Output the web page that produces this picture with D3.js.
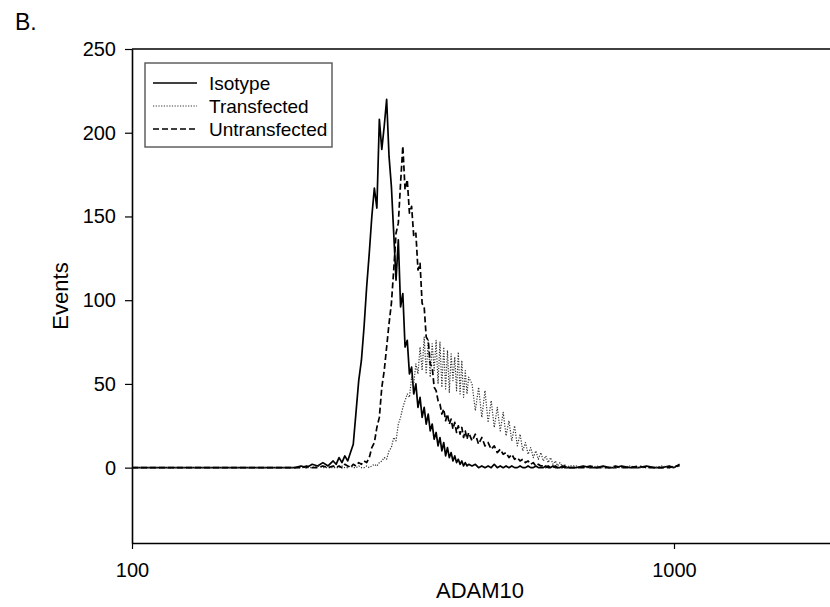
<!DOCTYPE html>
<html>
<head>
<meta charset="utf-8">
<script src="https://cdn.jsdelivr.net/npm/d3@7"></script>
<style>
  html, body { margin: 0; background: #fff; overflow: hidden; }
  svg { display: block; font-family: 'Liberation Sans', Arial, sans-serif; }
</style>
</head>
<body>
<div class="viz"></div>
<script>
// ADAM10 fluorescence channels shared by the three histograms
const channels = [
  100, 120, 140, 160, 180, 200, 205, 210, 215, 220, 225, 230, 235,
  238, 241, 244, 247, 250, 253, 256, 259, 262, 265, 268, 271, 274, 277, 280, 283, 286, 289,
  292, 295, 298, 301, 304, 307, 310, 313, 316, 319, 322, 325, 328, 331, 334, 337, 340, 343,
  346, 349, 352, 355, 358, 361, 364, 367, 370, 373, 376, 379, 382, 385, 388, 391, 394, 397,
  400, 403, 406, 409, 412, 415, 418,
  424, 430, 436, 442, 448, 454, 460, 466, 472, 478, 484, 490, 496, 502, 508, 514, 520, 526,
  532, 538, 544, 550, 556, 562, 568, 574, 580, 586, 592, 598, 604, 610, 616, 622, 628, 634, 640,
  660, 680, 700, 720, 740, 760, 780, 800, 830, 860, 890, 920, 950, 980, 1000, 1024,
];

// events per channel
const isotype = [
  0, 0, 0, 0, 0, 0, 1, 0, 2, 1, 3, 1, 4,
  2, 6, 3, 7, 4, 9, 14, 33, 52, 64, 84, 108, 128, 150, 167, 155, 208, 190,
  204, 220, 186, 168, 140, 112, 136, 96, 104, 72, 76, 56, 60, 44, 50, 36, 42, 30,
  36, 26, 32, 22, 26, 17, 21, 13, 18, 10, 15, 7, 12, 6, 9, 4, 7, 3,
  5, 2, 4, 1, 3, 1, 2,
  1, 2, 0, 1, 0, 1, 0, 2, 0, 1, 0, 1, 0, 1, 0, 0, 1, 0,
  0, 1, 0, 0, 1, 0, 0, 0, 1, 0, 0, 1, 0, 0, 0, 1, 0, 0, 0,
  0, 1, 0, 0, 1, 0, 0, 1, 0, 0, 1, 0, 0, 1, 0, 2,
];
const transfected = [
  0, 0, 0, 0, 0, 0, 0, 0, 0, 1, 0, 0, 0,
  0, 0, 1, 0, 0, 1, 0, 0, 1, 0, 0, 1, 0, 1, 2, 1, 3, 4,
  6, 5, 10, 12, 18, 16, 26, 30, 36, 40, 44, 42, 54, 50, 62, 56, 72, 58,
  78, 56, 76, 54, 74, 58, 76, 50, 75, 48, 72, 47, 70, 45, 68, 52, 66, 46,
  69, 44, 64, 42, 58, 44, 54,
  50, 34, 48, 30, 46, 27, 40, 24, 36, 22, 33, 19, 28, 16, 25, 13, 20, 10,
  15, 8, 12, 6, 10, 5, 9, 4, 7, 3, 6, 2, 4, 1, 3, 1, 2, 0, 1,
  1, 0, 0, 1, 0, 0, 0, 0, 1, 0, 0, 0, 1, 0, 0, 1,
];
const untransfected = [
  0, 0, 0, 0, 0, 0, 0, 1, 0, 0, 1, 0, 1,
  0, 1, 0, 2, 1, 0, 2, 1, 3, 2, 4, 3, 6, 12, 15, 24, 30, 48,
  58, 72, 86, 98, 118, 140, 146, 170, 192, 166, 172, 152, 156, 138, 140, 118, 122, 98,
  96, 78, 76, 62, 60, 48, 46, 40, 38, 32, 35, 28, 32, 26, 29, 23, 27, 21,
  25, 20, 24, 18, 22, 17, 21,
  16, 20, 14, 18, 13, 15, 11, 13, 9, 11, 8, 9, 6, 8, 5, 6, 4, 5,
  3, 4, 2, 3, 1, 2, 1, 1, 0, 1, 0, 0, 1, 0, 0, 0, 1, 0, 0,
  0, 0, 1, 0, 0, 0, 1, 0, 0, 1, 0, 0, 0, 0, 1, 1,
];

const seriesNames = ['Isotype', 'Transfected', 'Untransfected'];
const seriesValues = [isotype, transfected, untransfected];
const seriesStyles = [
  { stroke: '#000', width: 1.7, dash: null },
  { stroke: '#333', width: 1.2, dash: '1.2,1.5' },
  { stroke: '#000', width: 1.7, dash: '6,3' },
];

const yTicks = [0, 50, 100, 150, 200, 250];
const xTicks = [100, 1000];

const width = 830;
const height = 607;
const plot = { left: 132, top: 49, bottom: 543 };

const svg = d3
  .select('.viz')
  .append('svg')
  .attr('width', width)
  .attr('height', height);

const xScale = d3
  .scaleLog()
  .domain([100, 2000])
  .range([plot.left, plot.left + 542 * Math.log10(20)]);

const yScale = d3
  .scaleLinear()
  .domain([-45, 250])
  .range([plot.bottom, plot.top]);

// top frame line (the right side runs past the picture)
svg
  .append('path')
  .attr('d', `M${plot.left},${plot.top}H${width + 20}`)
  .attr('stroke', '#000')
  .attr('stroke-width', 1.6);

const yAxis = svg
  .append('g')
  .attr('transform', `translate(${plot.left} 0)`)
  .call(d3.axisLeft(yScale).tickValues(yTicks).tickSize(7).tickSizeOuter(0).tickPadding(9));

const xAxis = svg
  .append('g')
  .attr('transform', `translate(0 ${plot.bottom})`)
  .call(d3.axisBottom(xScale).tickValues(xTicks).tickFormat(d3.format('d')).tickSize(6).tickSizeOuter(0).tickPadding(14));

[yAxis, xAxis].forEach((axis) => {
  axis.select('.domain').attr('stroke-width', 1.6);
  axis.selectAll('.tick line').attr('stroke-width', 1.2);
  axis.selectAll('text').attr('font-size', 20).attr('fill', '#000').attr('font-family', 'Liberation Sans, Arial, sans-serif');
});

// histograms
const line = d3
  .line()
  .x((d, i) => xScale(channels[i]))
  .y(d => yScale(d));

svg
  .append('g')
  .selectAll('path')
  .data(seriesValues)
  .enter()
  .append('path')
  .attr('d', d => line(d))
  .attr('fill', 'none')
  .attr('stroke', (d, i) => seriesStyles[i].stroke)
  .attr('stroke-width', (d, i) => seriesStyles[i].width)
  .attr('stroke-dasharray', (d, i) => seriesStyles[i].dash)
  .attr('stroke-linejoin', 'round');

// legend
const legend = svg
  .append('g')
  .attr('transform', 'translate(145 63)');

legend
  .append('rect')
  .attr('width', 187)
  .attr('height', 84)
  .attr('fill', '#fff')
  .attr('stroke', '#555')
  .attr('stroke-width', 1.4);

const legendRows = legend
  .selectAll('g.row')
  .data(seriesNames)
  .enter()
  .append('g')
  .attr('class', 'row')
  .attr('transform', (d, i) => `translate(0 ${20 + i * 23})`);

legendRows
  .append('line')
  .attr('x1', 8)
  .attr('x2', 52)
  .attr('stroke', (d, i) => seriesStyles[i].stroke)
  .attr('stroke-width', (d, i) => (i === 1 ? 1 : 1.4))
  .attr('stroke-dasharray', (d, i) => seriesStyles[i].dash);

legendRows
  .append('text')
  .attr('x', 64)
  .attr('y', 6.5)
  .attr('font-size', 19)
  .text(d => d);

// titles
svg
  .append('text')
  .attr('x', 15)
  .attr('y', 30)
  .attr('font-size', 23)
  .text('B.');

svg
  .append('text')
  .attr('transform', 'translate(68 296) rotate(-90)')
  .attr('text-anchor', 'middle')
  .attr('font-size', 22)
  .text('Events');

svg
  .append('text')
  .attr('x', 480)
  .attr('y', 598)
  .attr('text-anchor', 'middle')
  .attr('font-size', 22)
  .text('ADAM10');
</script>
</body>
</html>
